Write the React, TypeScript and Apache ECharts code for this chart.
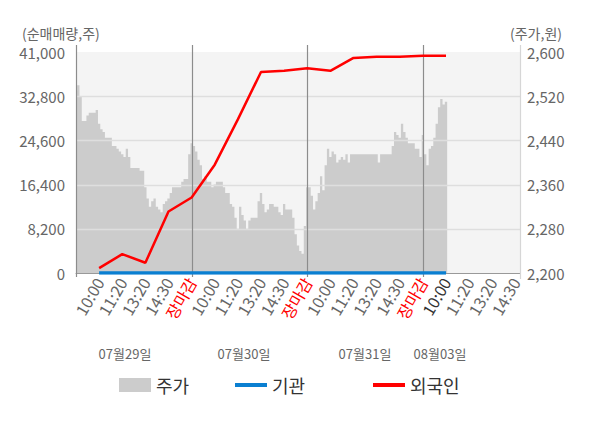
import React, { useEffect, useRef } from "react";
import * as echarts from "echarts";

// ---- data ----
const timeLabels = ["10:00", "11:20", "13:20", "14:30", "장마감"];
const dateLabels = ["07월29일", "07월30일", "07월31일", "08월03일"];
const categoryCount = 193;
const labelStep = 10;
const daySeparators = [50, 100, 150];
const leftTicks = [8200, 16400, 24600, 32800];

// 주가 (원), one value per category, from index 0
const priceValues = [
  2530, 2540, 2520, 2475, 2475, 2485, 2490, 2490, 2490, 2495,
  2470, 2460, 2455, 2445, 2445, 2445, 2430, 2430, 2425, 2420,
  2415, 2410, 2425, 2410, 2390, 2390, 2390, 2390, 2385, 2385,
  2355, 2335, 2320, 2330, 2335, 2320, 2315, 2310, 2325, 2330,
  2335, 2345, 2355, 2355, 2355, 2355, 2365, 2370, 2370, 2415,
  2435, 2430, 2420, 2405, 2395, 2370, 2375, 2365, 2365, 2355,
  2360, 2365, 2365, 2365, 2355, 2345, 2345, 2325, 2320, 2300,
  2280, 2320, 2305, 2295, 2280, 2295, 2300, 2300, 2300, 2330,
  2345, 2325, 2310, 2315, 2325, 2325, 2320, 2320, 2310, 2305,
  2325, 2315, 2315, 2315, 2300, 2270, 2250, 2240, 2235, 2285,
  2355, 2355, 2340, 2315, 2330, 2345, 2375, 2350, 2395, 2425,
  2410, 2420, 2415, 2400, 2405, 2410, 2405, 2415, 2400, 2415,
  2415, 2415, 2415, 2415, 2415, 2415, 2415, 2415, 2415, 2415,
  2415, 2400, 2415, 2415, 2415, 2415, 2415, 2430, 2455, 2450,
  2445, 2470, 2455, 2445, 2435, 2435, 2435, 2425, 2425, 2410,
  2450, 2415, 2395, 2425, 2430, 2445, 2470, 2500, 2515, 2505, 2510,
];

// 외국인 / 기관 순매매량 (주), at category indices 10, 20, ..., 160
const flowIndices = [10, 20, 30, 40, 50, 60, 70, 80, 90, 100, 110, 120, 130, 140, 150, 160];
const foreignValues = [900, 3500, 1900, 11400, 14000, 20100, 28500, 37300, 37500, 38000, 37500, 39900, 40100, 40100, 40300, 40300];
const institutionValues = [0, 0, 0, 0, 0, 0, 0, 0, 0, 0, 0, 0, 0, 0, 0, 0];

const currentIndex = 160;

function App() {
  const ref = useRef<HTMLDivElement>(null);

  useEffect(() => {
    document.body.style.margin = "0";
    if (!ref.current) return;
    const chart = echarts.init(ref.current, undefined, { renderer: "svg" });

    const categories = Array.from({ length: categoryCount }, (_, i) => String(i));
    const priceSeries = categories.map((_, i) => (i < priceValues.length ? priceValues[i] : null));
    const sparse = (vals: number[]) => {
      const arr: (number | null)[] = categories.map(() => null);
      flowIndices.forEach((idx, k) => (arr[idx] = vals[k]));
      return arr;
    };

    const font = "'Noto Sans CJK KR', 'Noto Sans', sans-serif";
    const fmt = (v: number) => v.toLocaleString("en-US");

    chart.setOption({
      animation: false,
      textStyle: { fontFamily: font },
      grid: {
        left: 76,
        right: 80,
        top: 52,
        bottom: 155,
        show: true,
        backgroundColor: "#f4f4f4",
        borderWidth: 0,
      },
      legend: [
        {
          data: ["주가"], left: 114, top: 371, icon: "rect", itemWidth: 32, itemHeight: 14,
          selectedMode: false, textStyle: { fontSize: 18, color: "#333" },
        },
        {
          data: ["기관"], left: 230, top: 371, icon: "rect", itemWidth: 32, itemHeight: 4,
          selectedMode: false, textStyle: { fontSize: 18, color: "#333" },
        },
        {
          data: ["외국인"], left: 368, top: 371, icon: "rect", itemWidth: 32, itemHeight: 4,
          selectedMode: false, textStyle: { fontSize: 18, color: "#333" },
        },
      ],
      xAxis: {
        type: "category",
        data: categories,
        boundaryGap: false,
        axisLine: { show: true, lineStyle: { color: "#999", width: 1 } },
        axisTick: { show: false },
        splitLine: { show: false },
        axisLabel: {
          interval: (index: number) => index > 0 && index % labelStep === 0,
          rotate: 60,
          margin: 6,
          fontSize: 16,
          color: "#666",
          formatter: (_v: string, index: number) => {
            const lab = timeLabels[(index / labelStep - 1) % timeLabels.length];
            if (lab === "장마감") return "{red|" + lab + "}";
            if (index === currentIndex) return "{cur|" + lab + "}";
            return lab;
          },
          rich: {
            red: { color: "#ff0000", fontSize: 16, fontFamily: font },
            cur: { color: "#333", fontSize: 16, fontFamily: font },
          },
        },
      },
      yAxis: [
        {
          type: "value",
          position: "left",
          min: 0,
          max: 41000,
          interval: 8200,
          axisLine: { show: false },
          axisTick: { show: false },
          splitLine: { show: false },
          axisLabel: { fontSize: 15, color: "#666", margin: 11, formatter: fmt },
        },
        {
          type: "value",
          position: "right",
          min: 2200,
          max: 2600,
          interval: 80,
          axisLine: { show: false },
          axisTick: { show: false },
          splitLine: { show: false },
          axisLabel: { fontSize: 15, color: "#666", margin: 7, formatter: fmt },
        },
      ],
      series: [
        {
          name: "주가",
          type: "line",
          yAxisIndex: 1,
          data: priceSeries,
          color: "#cccccc",
          showSymbol: false,
          symbol: "none",
          step: "middle",
          lineStyle: { width: 0, color: "#cccccc" },
          areaStyle: { color: "#cccccc", opacity: 1, origin: "start" },
          z: 2,
        },
        {
          name: "기관",
          type: "line",
          yAxisIndex: 0,
          data: sparse(institutionValues),
          connectNulls: true,
          color: "#0a7fd1",
          showSymbol: false,
          symbol: "none",
          lineStyle: { width: 3.5, color: "#0a7fd1" },
          z: 5,
        },
        {
          name: "외국인",
          type: "line",
          yAxisIndex: 0,
          data: sparse(foreignValues),
          connectNulls: true,
          color: "#ff0000",
          showSymbol: false,
          symbol: "none",
          lineStyle: { width: 2.5, color: "#ff0000" },
          z: 6,
        },
      ],
    });

    // lines and texts placed from the chart's own scales
    const px = (i: number) => chart.convertToPixel({ xAxisIndex: 0 }, i) as number;
    const py = (v: number) => chart.convertToPixel({ yAxisIndex: 0 }, v) as number;
    const xLeft = px(0);
    const xRight = px(categoryCount - 1);
    const graphics: any[] = [];
    leftTicks.forEach((v) => {
      const y = Math.round(py(v)) + 0.5;
      graphics.push({
        type: "line", z: 3, silent: true,
        shape: { x1: xLeft, y1: y, x2: xRight, y2: y },
        style: { stroke: "#dedede", lineWidth: 1.5 },
      });
    });
    [0, ...daySeparators].forEach((i) => {
      const x = Math.round(px(i)) + 0.5;
      graphics.push({
        type: "line", z: 4, silent: true,
        shape: { x1: x, y1: 45, x2: x, y2: 277 },
        style: { stroke: "#8c8c8c", lineWidth: 1.2 },
      });
    });
    graphics.push({
      type: "line", z: 4, silent: true,
      shape: { x1: Math.round(xRight) + 0.5, y1: 45, x2: Math.round(xRight) + 0.5, y2: 279 },
      style: { stroke: "#d6d6d6", lineWidth: 1.2 },
    });
    const datePos = [125, 244, 365, 440];
    dateLabels.forEach((t, k) => {
      graphics.push({
        type: "text", x: datePos[k], y: 353,
        style: { text: t, fill: "#666", font: "13px " + font, textAlign: "center", textVerticalAlign: "middle" },
      });
    });
    graphics.push({
      type: "text", x: 22, y: 33,
      style: { text: "(순매매량,주)", fill: "#666", font: "14px " + font, textAlign: "left", textVerticalAlign: "middle" },
    });
    graphics.push({
      type: "text", x: 562, y: 33,
      style: { text: "(주가,원)", fill: "#666", font: "14px " + font, textAlign: "right", textVerticalAlign: "middle" },
    });
    chart.setOption({ graphic: graphics });

    return () => chart.dispose();
  }, []);

  return <div ref={ref} style={{ width: 600, height: 428 }} />;
}

export default App;
